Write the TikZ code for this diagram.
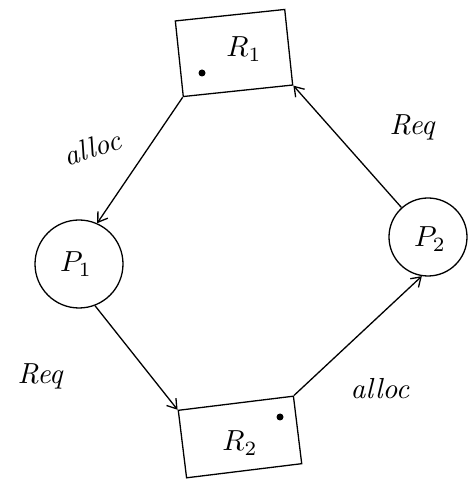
\documentclass[tikz,border=0pt]{standalone}
\usetikzlibrary{arrows.meta}
\begin{document}
\begin{tikzpicture}[x=1pt,y=1pt,
  line width=1.3pt,
  res/.style={draw, rectangle, inner sep=0pt},
  proc/.style={draw, circle, inner sep=0pt},
  inst/.style={fill, circle, inner sep=0pt, minimum size=7pt},
  edge/.style={-{Straight Barb[length=9pt,width=12pt]}},
  lbl/.style={scale=2.9, font=\itshape},
  ptxt/.style={scale=2.9}
]
\useasboundingbox (0,0) rectangle (468,479);
\fill[white] (0,0) rectangle (468,479);
% resources
\node[res, minimum width=110pt, minimum height=76pt, rotate=6] (R1) at (234,426) {};
\node[ptxt] (R1t) at (244,430) {$R_1$};
\node[inst] (d1) at (202,406) {};
\node[res, minimum width=116pt, minimum height=68pt, rotate=7] (R2) at (240,42) {};
\node[ptxt] (R2t) at (240,36) {$R_2$};
\node[inst] (d2) at (280,62) {};
% processes
\node[proc, minimum size=88pt] (P1) at (79,215) {};
\node[ptxt] (P1t) at (76,215) {$P_1$};
\node[proc, minimum size=78pt] (P2) at (428,242) {};
\node[ptxt] (P2t) at (430,240) {$P_2$};
% edges
\draw[edge] (R1.south west) -- (P1.66);
\draw[edge] (P1.-69) -- (R2.north west);
\draw[edge] (R2.north east) -- (P2.-99);
\draw[edge] (P2.132) -- (R1.south east);
% labels
\node[lbl, rotate=18] (a1) at (92,331) {alloc};
\node[lbl] (q1) at (40,103) {Req};
\node[lbl] (a2) at (380,90) {alloc};
\node[lbl] (q2) at (412,352) {Req};
\end{tikzpicture}
\end{document}
